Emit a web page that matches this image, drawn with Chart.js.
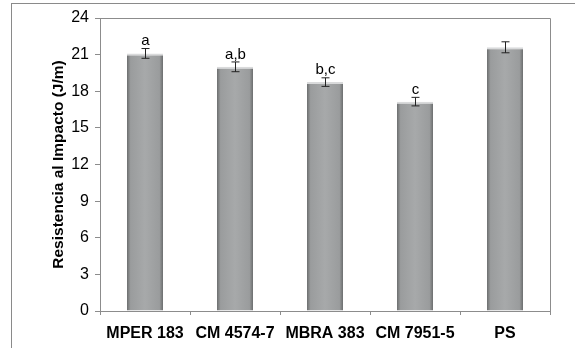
<!DOCTYPE html>
<html>
<head>
<meta charset="utf-8">
<script src="https://cdn.jsdelivr.net/npm/chart.js@4"></script>
<style>
  html, body { margin: 0; padding: 0; background: #fff; }
  #wrap { position: relative; width: 575px; height: 348px; overflow: hidden; }
  #frame { position: absolute; left: 11px; top: 3px; width: 600px; height: 400px;
           border-left: 1px solid #8a8a8a; border-top: 1px solid #8a8a8a; }
  canvas { position: absolute; left: 0; top: 0; }
</style>
</head>
<body>
<div id="wrap">
  <div id="frame"></div>
  <canvas id="chart" width="575" height="348"></canvas>
</div>
<script>
const categories = ['MPER 183', 'CM 4574-7', 'MBRA 383', 'CM 7951-5', 'PS'];
const values = [21.1, 20.0, 18.75, 17.15, 21.6];
const errors = [0.4, 0.4, 0.35, 0.35, 0.45];
const letters = ['a', 'a,b', 'b,c', 'c', ''];
const yTicks = [0, 3, 6, 9, 12, 15, 18, 21, 24];

const fontFam = '"Liberation Sans", Arial, sans-serif';

function barFill(ctx) {
  const chart = ctx.chart;
  const xs = chart.scales.x;
  if (!xs || ctx.dataIndex === undefined) return '#a3a5a6';
  const cx = xs.getPixelForValue(ctx.dataIndex);
  if (!Number.isFinite(cx)) return '#a3a5a6';
  const half = 18;
  const g = chart.ctx.createLinearGradient(cx - half, 0, cx + half, 0);
  g.addColorStop(0, '#6c6e6f');
  g.addColorStop(0.1, '#9a9c9d');
  g.addColorStop(0.5, '#a7a9aa');
  g.addColorStop(0.9, '#9a9c9d');
  g.addColorStop(1, '#6c6e6f');
  return g;
}

const extras = {
  id: 'extras',
  afterDatasetsDraw(chart) {
    const c = chart.ctx;
    const xs = chart.scales.x, ys = chart.scales.y;
    const a = chart.chartArea;
    c.save();
    // plot frame top/right
    c.strokeStyle = '#8c8c8c';
    c.lineWidth = 1;
    c.beginPath();
    c.moveTo(a.left, a.top + 0.5);
    c.lineTo(a.right + 0.5, a.top + 0.5);
    c.lineTo(a.right + 0.5, a.bottom + 4);
    c.stroke();
    // error bars and letters
    c.strokeStyle = '#222';
    c.fillStyle = '#000';
    c.font = '15px ' + fontFam;
    c.textAlign = 'center';
    c.textBaseline = 'bottom';
    values.forEach((v, i) => {
      const x = Math.round(xs.getPixelForValue(i)) + 0.5;
      const yt = ys.getPixelForValue(v + errors[i]);
      const yb = ys.getPixelForValue(v - errors[i]);
      c.beginPath();
      c.moveTo(x, yt); c.lineTo(x, yb);
      c.moveTo(x - 4, yt); c.lineTo(x + 4, yt);
      c.moveTo(x - 4, yb); c.lineTo(x + 4, yb);
      c.stroke();
      if (letters[i]) c.fillText(letters[i], x, yt);
    });
    c.restore();
  }
};

const chart = new Chart(document.getElementById('chart'), {
  type: 'bar',
  data: {
    labels: categories,
    datasets: [{
      data: values,
      backgroundColor: barFill,
      borderColor: '#d9dadb',
      borderWidth: { top: 2, left: 0, right: 0, bottom: 0 },
      borderSkipped: false,
      categoryPercentage: 0.8,
      barPercentage: 0.5
    }]
  },
  options: {
    responsive: false,
    animation: false,
    layout: { padding: { left: 45, right: 25, top: 18, bottom: 0 } },
    plugins: { legend: { display: false }, tooltip: { enabled: false } },
    scales: {
      x: {
        afterFit(s) { s.height = 37; },
        grid: { display: true, drawOnChartArea: false, offset: true, color: '#8c8c8c', tickLength: 4 },
        border: { color: '#8c8c8c' },
        ticks: { color: '#000', font: { family: fontFam, size: 16, weight: 'bold' }, padding: 9, maxRotation: 0, autoSkip: false }
      },
      y: {
        min: 0, max: 24,
        afterFit(s) { s.width = 55; },
        afterBuildTicks(s) { s.ticks = yTicks.map(v => ({ value: v })); },
        grid: { display: true, drawOnChartArea: false, color: '#8c8c8c', tickLength: 5 },
        border: { color: '#8c8c8c' },
        ticks: { color: '#000', font: { family: fontFam, size: 16 }, padding: 6 },
        title: { display: true, text: 'Resistencia al Impacto (J/m)', color: '#000',
                 font: { family: fontFam, size: 15.5, weight: 'bold' }, padding: { top: 4, bottom: 4 } }
      }
    }
  },
  plugins: [extras]
});
chart.update();
</script>
</body>
</html>
